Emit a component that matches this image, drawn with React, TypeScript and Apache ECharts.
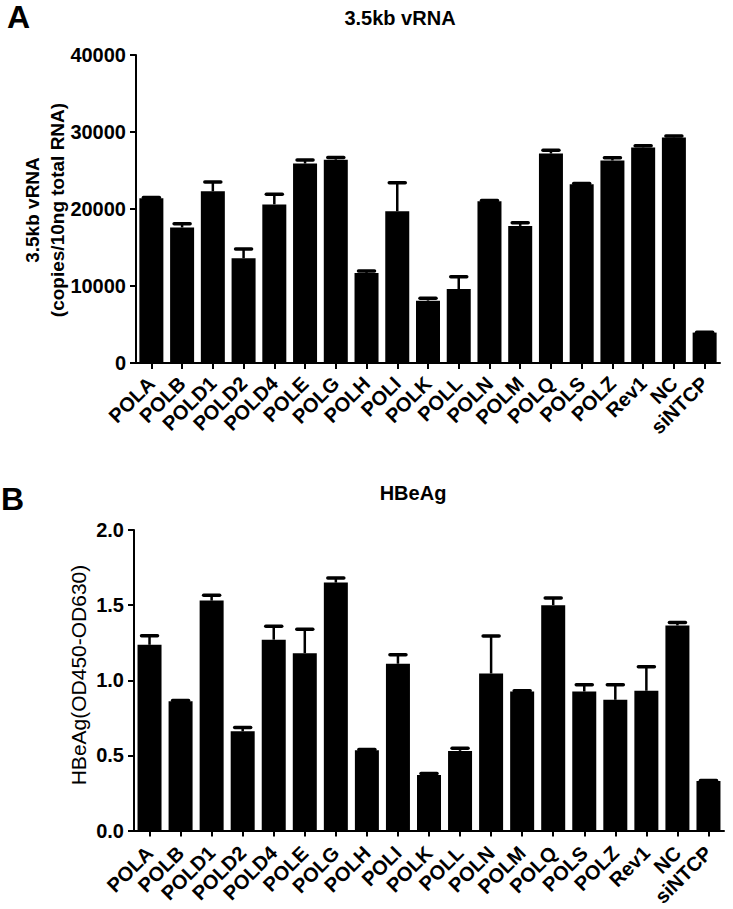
import React, { useEffect, useRef } from "react";
import * as echarts from "echarts";

const categories = ["POLA", "POLB", "POLD1", "POLD2", "POLD4", "POLE", "POLG", "POLH", "POLI", "POLK", "POLL", "POLN", "POLM", "POLQ", "POLS", "POLZ", "Rev1", "NC", "siNTCP"];
const rnaMean = [21400, 17600, 22300, 13600, 20600, 25900, 26400, 11700, 19700, 8100, 9600, 21000, 17800, 27200, 23200, 26300, 28000, 29300, 3950];
const rnaErr = [100, 500, 1200, 1200, 1300, 450, 300, 250, 3700, 300, 1600, 100, 400, 430, 100, 350, 200, 170, 50];
const hbeMean = [1.236, 0.86, 1.53, 0.66, 1.27, 1.18, 1.65, 0.535, 1.11, 0.37, 0.53, 1.045, 0.925, 1.5, 0.925, 0.87, 0.93, 1.365, 0.33];
const hbeErr = [0.06, 0.005, 0.035, 0.025, 0.09, 0.16, 0.03, 0.005, 0.06, 0.01, 0.018, 0.25, 0.005, 0.048, 0.045, 0.1, 0.16, 0.02, 0.003];
const rnaTicks = { min: 0, max: 40000, interval: 10000 };
const hbeTicks = { min: 0, max: 2, interval: 0.5 };

const FONT = "'Liberation Sans', Arial, sans-serif";

function errSeries(mean: number[], err: number[], idx: number) {
  return {
    type: "custom",
    xAxisIndex: idx,
    yAxisIndex: idx,
    z: 5,
    encode: { x: 0, y: 1 },
    data: mean.map((m, i) => [i, m, err[i]]),
    renderItem: (params: any, api: any) => {
      const i = api.value(0);
      const m = api.value(1);
      const e = api.value(2);
      const p0 = api.coord([i, m]);
      const p1 = api.coord([i, m + e]);
      return {
        type: "group",
        children: [
          { type: "line", shape: { x1: p0[0], y1: p0[1], x2: p1[0], y2: p1[1] }, style: { stroke: "#000", lineWidth: 2.5 } },
          { type: "line", shape: { x1: p1[0] - 8, y1: p1[1], x2: p1[0] + 8, y2: p1[1] }, style: { stroke: "#000", lineWidth: 3.5, lineCap: "round" } },
        ],
      };
    },
  };
}

function xAx(idx: number, margin: number) {
  return {
    type: "category",
    gridIndex: idx,
    data: categories,
    axisLine: { show: true, lineStyle: { color: "#000", width: 2 } },
    axisTick: { show: true, alignWithLabel: true, length: 6, lineStyle: { color: "#000", width: 2 } },
    axisLabel: { rotate: 45, margin, color: "#000", fontFamily: FONT, fontWeight: "bold", fontSize: 20, interval: 0 },
  };
}

function yAx(idx: number, t: any, fmt: (v: number) => string) {
  return {
    type: "value",
    gridIndex: idx,
    min: t.min,
    max: t.max,
    interval: t.interval,
    axisLine: { show: true, lineStyle: { color: "#000", width: 2 } },
    axisTick: { show: true, length: 6, lineStyle: { color: "#000", width: 2 } },
    splitLine: { show: false },
    axisLabel: { margin: 10, color: "#000", fontFamily: FONT, fontWeight: "bold", fontSize: 20, formatter: fmt },
  };
}

export default function App() {
  const ref = useRef<HTMLDivElement>(null);
  useEffect(() => {
    if (!ref.current) return;
    const chart = echarts.init(ref.current, undefined, { renderer: "svg" });
    chart.setOption({
      animation: false,
      backgroundColor: "#fff",
      grid: [
        { left: 136, top: 55, width: 584, height: 308 },
        { left: 134, top: 530, width: 590, height: 303 },
      ],
      xAxis: [xAx(0, 17), xAx(1, 19)],
      yAxis: [
        yAx(0, rnaTicks, (v: number) => String(v)),
        yAx(1, hbeTicks, (v: number) => v.toFixed(1)),
      ],
      graphic: [
        { type: "text", left: 7, top: 1, style: { text: "A", font: `bold 32px ${FONT}`, fill: "#000" } },
        { type: "text", left: 1, top: 483, style: { text: "B", font: `bold 32px ${FONT}`, fill: "#000" } },
        { type: "text", x: 400, y: 18, style: { text: "3.5kb vRNA", font: `bold 20px ${FONT}`, fill: "#000", align: "center", verticalAlign: "middle" } },
        { type: "text", x: 413, y: 493, style: { text: "HBeAg", font: `bold 20px ${FONT}`, fill: "#000", align: "center", verticalAlign: "middle" } },
        { type: "text", x: 45, y: 210, rotation: Math.PI / 2, style: { text: "3.5kb vRNA\n(copies/10ng total RNA)", font: `bold 19px ${FONT}`, lineHeight: 25, fill: "#000", align: "center", verticalAlign: "middle" } },
        { type: "text", x: 78, y: 675, rotation: Math.PI / 2, style: { text: "HBeAg(OD450-OD630)", font: `21px ${FONT}`, fill: "#000", align: "center", verticalAlign: "middle" } },
      ],
      series: [
        { type: "bar", xAxisIndex: 0, yAxisIndex: 0, data: rnaMean, barWidth: 24, itemStyle: { color: "#000" }, z: 2 },
        errSeries(rnaMean, rnaErr, 0),
        { type: "bar", xAxisIndex: 1, yAxisIndex: 1, data: hbeMean, barWidth: 24, itemStyle: { color: "#000" }, z: 2 },
        errSeries(hbeMean, hbeErr, 1),
      ],
    });
    return () => chart.dispose();
  }, []);
  return <div ref={ref} style={{ position: "absolute", left: 0, top: 0, width: 733, height: 909 }} />;
}
